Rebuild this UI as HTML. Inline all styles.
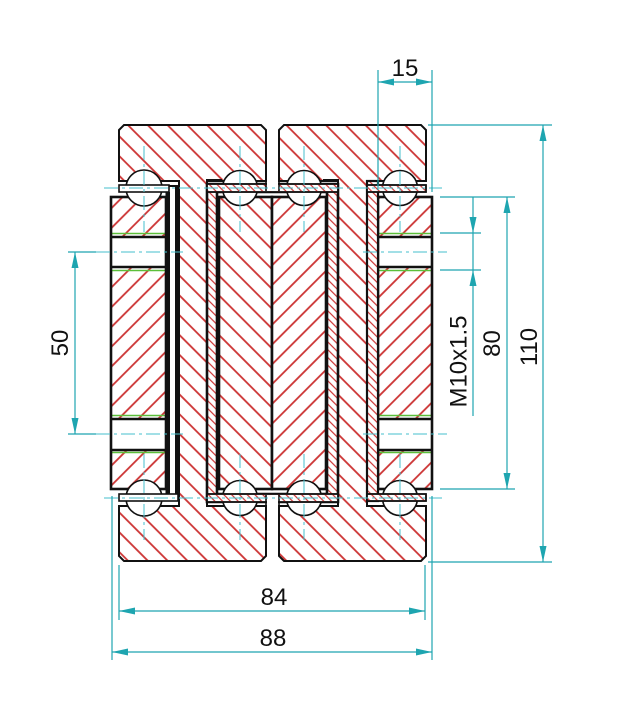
<!DOCTYPE html>
<html><head><meta charset="utf-8">
<style>html,body{margin:0;padding:0;background:#fff;}svg{display:block}</style></head>
<body>
<svg width="618" height="726" viewBox="0 0 618 726" xmlns="http://www.w3.org/2000/svg">
<defs>
<pattern id="hA" width="14" height="28" patternUnits="userSpaceOnUse" patternTransform="rotate(-45)"><line x1="2" y1="-2" x2="2" y2="30" stroke="#cc3333" stroke-width="1.8"/></pattern>
<pattern id="hB" width="14" height="28" patternUnits="userSpaceOnUse" patternTransform="rotate(45)"><line x1="2" y1="-2" x2="2" y2="30" stroke="#cc3333" stroke-width="1.8"/></pattern>
<pattern id="hF" width="5.5" height="20" patternUnits="userSpaceOnUse" patternTransform="rotate(-45)"><line x1="1" y1="-2" x2="1" y2="22" stroke="#cc3333" stroke-width="1.2"/></pattern>
</defs>
<rect width="618" height="726" fill="#fff"/>

<!-- I-rails -->
<path d="M119,130 L124,125 L261,125 L266,130 L266,181 L207,181 L207,506 L266,506 L266,556 L261,561 L124,561 L119,556 L119,506 L179,506 L179,181 L119,181 Z" fill="url(#hA)" stroke="#111" stroke-width="2"/>
<path d="M279,130 L284,125 L421,125 L426,130 L426,181 L367,181 L367,506 L426,506 L426,556 L421,561 L284,561 L279,556 L279,506 L338,506 L338,181 L279,181 Z" fill="url(#hA)" stroke="#111" stroke-width="2"/>

<!-- middle channel -->
<path d="M207,184 L338,184 L338,502 L207,502 Z M217,192 L217,494 L327,494 L327,192 Z" fill="#fff" fill-rule="evenodd"/>
<path d="M207,184 L338,184 L338,502 L207,502 Z M217,192 L217,494 L327,494 L327,192 Z" fill="url(#hF)" fill-rule="evenodd" stroke="#111" stroke-width="2.6"/>
<path d="M207,184 L207,180 L222,180 M338,184 L338,180 L323,180" fill="none" stroke="#111" stroke-width="2"/>

<!-- middle blocks -->
<rect x="219" y="197" width="53" height="292" fill="#fff"/>
<rect x="219" y="197" width="53" height="292" fill="url(#hA)" stroke="#111" stroke-width="2.6"/>
<rect x="272" y="197" width="54" height="292" fill="#fff"/>
<rect x="272" y="197" width="54" height="292" fill="url(#hB)" stroke="#111" stroke-width="2.6"/>

<!-- left outer carriage -->
<rect x="111" y="197" width="55" height="292" fill="#fff"/>
<rect x="111" y="197" width="55" height="292" fill="url(#hB)"/>
<rect x="111" y="237" width="55" height="30" fill="#fff"/>
<rect x="111" y="419" width="55" height="31" fill="#fff"/>
<g stroke="#5cbf3a" stroke-width="1.6">
<line x1="111" y1="233.5" x2="166" y2="233.5"/><line x1="111" y1="270.5" x2="166" y2="270.5"/>
<line x1="111" y1="415.5" x2="166" y2="415.5"/><line x1="111" y1="452.5" x2="166" y2="452.5"/>
</g>
<g stroke="#111" stroke-width="2.6">
<line x1="111" y1="237" x2="166" y2="237"/><line x1="111" y1="267" x2="166" y2="267"/>
<line x1="111" y1="419" x2="166" y2="419"/><line x1="111" y1="450" x2="166" y2="450"/>
</g>
<rect x="111" y="197" width="55" height="292" fill="none" stroke="#111" stroke-width="2.6"/>
<!-- left sheet -->
<rect x="166" y="186" width="13" height="314" fill="#fff"/>
<rect x="165.5" y="192" width="4.5" height="302" fill="#111"/>
<rect x="175" y="186" width="4.5" height="314" fill="#111"/>

<!-- right outer carriage -->
<rect x="378" y="197" width="54" height="292" fill="#fff"/>
<rect x="378" y="197" width="54" height="292" fill="url(#hB)"/>
<rect x="378" y="237" width="54" height="30" fill="#fff"/>
<rect x="378" y="419" width="54" height="31" fill="#fff"/>
<g stroke="#5cbf3a" stroke-width="1.6">
<line x1="378" y1="233.5" x2="432" y2="233.5"/><line x1="378" y1="270.5" x2="432" y2="270.5"/>
<line x1="378" y1="415.5" x2="432" y2="415.5"/><line x1="378" y1="452.5" x2="432" y2="452.5"/>
</g>
<g stroke="#111" stroke-width="2.6">
<line x1="378" y1="237" x2="432" y2="237"/><line x1="378" y1="267" x2="432" y2="267"/>
<line x1="378" y1="419" x2="432" y2="419"/><line x1="378" y1="450" x2="432" y2="450"/>
</g>
<rect x="378" y="197" width="54" height="292" fill="none" stroke="#111" stroke-width="2.6"/>
<!-- right sheet -->
<rect x="367" y="181" width="11" height="320" fill="#fff"/>
<rect x="367" y="181" width="11" height="320" fill="url(#hF)" stroke="#111" stroke-width="2.2"/>

<!-- balls -->
<g fill="#fff" stroke="#111" stroke-width="1.6">
<circle cx="144" cy="188" r="18"/><circle cx="240" cy="188" r="17.5"/><circle cx="304" cy="188" r="17.5"/><circle cx="400" cy="188" r="17.5"/>
<circle cx="144" cy="498" r="18"/><circle cx="240" cy="498" r="17.5"/><circle cx="304" cy="498" r="17.5"/><circle cx="400" cy="498" r="17.5"/>
</g>

<!-- strips -->
<g stroke="#111" stroke-width="1.6">
<rect x="119" y="185" width="50" height="7" fill="#fff"/>
<rect x="119" y="494" width="59" height="7" fill="#fff"/>
<rect x="207" y="184" width="131" height="8" fill="#fff"/>
<rect x="207" y="184" width="131" height="8" fill="url(#hF)"/>
<rect x="207" y="494" width="131" height="8" fill="#fff"/>
<rect x="207" y="494" width="131" height="8" fill="url(#hF)"/>
<rect x="367" y="185" width="59" height="7" fill="#fff"/>
<rect x="367" y="185" width="59" height="7" fill="url(#hF)"/>
<rect x="367" y="494" width="59" height="7" fill="#fff"/>
<rect x="367" y="494" width="59" height="7" fill="url(#hF)"/>
</g>
<line x1="169" y1="186" x2="178" y2="186" stroke="#111" stroke-width="2"/>
<!-- flange gaps -->
<rect x="267" y="179" width="11" height="12" fill="#fff"/>
<rect x="267" y="495" width="11" height="12" fill="#fff"/>
<g stroke="#111" stroke-width="1.6">
<line x1="266" y1="179" x2="266" y2="191"/><line x1="279" y1="179" x2="279" y2="191"/>
<line x1="266" y1="495" x2="266" y2="507"/><line x1="279" y1="495" x2="279" y2="507"/>
</g>

<!-- centre lines -->
<g stroke="#45bfcc" stroke-width="1" fill="none" stroke-dasharray="14 4 3 4">
<line x1="144" y1="146" x2="144" y2="232"/><line x1="240" y1="146" x2="240" y2="232"/>
<line x1="304" y1="146" x2="304" y2="232"/><line x1="400" y1="146" x2="400" y2="232"/>
<line x1="144" y1="454" x2="144" y2="540"/><line x1="240" y1="454" x2="240" y2="540"/>
<line x1="304" y1="454" x2="304" y2="540"/><line x1="400" y1="454" x2="400" y2="540"/>
<line x1="104" y1="188" x2="442" y2="188"/><line x1="104" y1="498" x2="442" y2="498"/>
<line x1="96" y1="252" x2="183" y2="252"/><line x1="96" y1="434" x2="183" y2="434"/>
<line x1="363" y1="252" x2="447" y2="252"/><line x1="363" y1="434" x2="447" y2="434"/>
</g>

<!-- dimensions -->
<g stroke="#1ea5b0" stroke-width="1.2" fill="none">
<line x1="378" y1="82" x2="432" y2="82"/>
<line x1="378" y1="70" x2="378" y2="190"/><line x1="432" y1="70" x2="432" y2="192"/>
<line x1="543" y1="125" x2="543" y2="562"/>
<line x1="428" y1="125" x2="552" y2="125"/><line x1="428" y1="562" x2="552" y2="562"/>
<line x1="507" y1="197" x2="507" y2="489"/>
<line x1="440" y1="197" x2="515" y2="197"/><line x1="440" y1="489" x2="515" y2="489"/>
<line x1="473" y1="197" x2="473" y2="416"/>
<line x1="440" y1="233" x2="481" y2="233"/><line x1="440" y1="270" x2="481" y2="270"/>
<line x1="75" y1="252" x2="75" y2="434"/>
<line x1="68" y1="252" x2="96" y2="252"/><line x1="68" y1="434" x2="96" y2="434"/>
<line x1="119" y1="611" x2="425" y2="611"/>
<line x1="119" y1="565" x2="119" y2="620"/><line x1="425" y1="565" x2="425" y2="620"/>
<line x1="112" y1="652" x2="432" y2="652"/>
<line x1="112" y1="496" x2="112" y2="660"/><line x1="432" y1="496" x2="432" y2="660"/>
</g>
<g fill="#1ea5b0">
<polygon points="378,82 394,78.5 394,85.5"/><polygon points="432,82 416,78.5 416,85.5"/>
<polygon points="543,125 539.5,141 546.5,141"/><polygon points="543,562 539.5,546 546.5,546"/>
<polygon points="507,197 503.5,213 510.5,213"/><polygon points="507,489 503.5,473 510.5,473"/>
<polygon points="473,233 469.5,217 476.5,217"/><polygon points="473,270 469.5,286 476.5,286"/>
<polygon points="75,252 71.5,268 78.5,268"/><polygon points="75,434 71.5,418 78.5,418"/>
<polygon points="119,611 135,607.5 135,614.5"/><polygon points="425,611 409,607.5 409,614.5"/>
<polygon points="112,652 128,648.5 128,655.5"/><polygon points="432,652 416,648.5 416,655.5"/>
</g>

<g font-family="Liberation Sans, Arial, sans-serif" font-size="24" fill="#111" text-anchor="middle">
<text x="405" y="76">15</text>
<text x="274" y="605">84</text>
<text x="273" y="646">88</text>
<text transform="translate(68,343) rotate(-90)">50</text>
<text transform="translate(537,347) rotate(-90)">110</text>
<text transform="translate(500,343.5) rotate(-90)">80</text>
<text transform="translate(466.5,361.5) rotate(-90)">M10x1.5</text>
</g>
</svg>
</body></html>
